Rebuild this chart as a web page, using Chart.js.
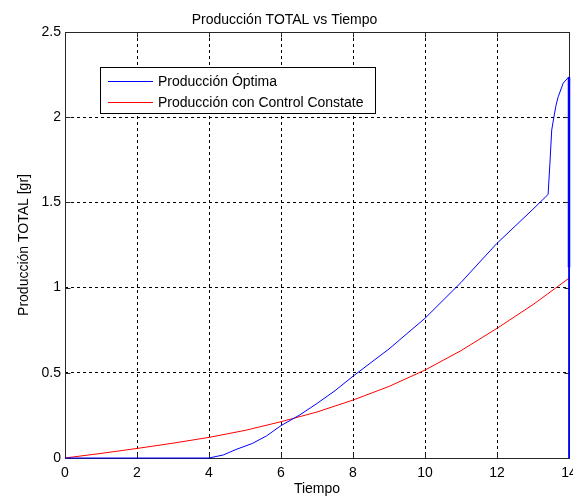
<!DOCTYPE html>
<html>
<head>
<meta charset="utf-8">
<script src="https://cdn.jsdelivr.net/npm/chart.js@4.4.1/dist/chart.umd.min.js"></script>
<style>
body { margin: 0; background: #fff; }
</style>
</head>
<body>
<canvas id="chart" width="573" height="500"></canvas>
<script>
// Producción óptima (azul)
var tiempoOptima = [0, 1, 2, 3, 4, 4.4, 4.75, 5.2, 5.6, 6, 6.5, 7, 7.5, 8, 9, 10, 11, 11.52, 12, 12.5, 13, 13.42,
    13.47, 13.52, 13.58, 13.64, 13.7, 13.84, 13.99, 14, 14];
var produccionOptima = [0, 0, 0, 0, 0, 0.018, 0.05, 0.085, 0.13, 0.19, 0.25, 0.32, 0.395, 0.48, 0.64, 0.82, 1.03, 1.15, 1.26, 1.36, 1.46, 1.547,
    1.73, 1.925, 2.0, 2.07, 2.12, 2.2, 2.235, 2.235, 0];
// tramo final repetido (se ve más grueso)
var tiempoFinal = [14, 14];
var produccionFinal = [2.235, 1.12];

// Producción con control constante (rojo)
var tiempoControl = [0, 1, 2, 3, 4, 5, 6, 7, 8, 9, 10, 11, 12, 13, 14];
var produccionControl = [0, 0.027, 0.056, 0.087, 0.121, 0.162, 0.213, 0.27, 0.34, 0.42, 0.516, 0.63, 0.761, 0.9, 1.055];

var xTicks = [0, 2, 4, 6, 8, 10, 12, 14];
var yTicks = [0, 0.5, 1, 1.5, 2, 2.5];

var FONT = "'Liberation Sans', Arial, sans-serif";

function toPoints(xs, ys) {
    return xs.map(function (x, i) { return { x: x, y: ys[i] }; });
}

/**
 * Frame round the axes plus the small inward tick marks.
 */
var marcoEjes = {
    id: 'marcoEjes',
    beforeDatasetsDraw: function (chart) {
        var ctx = chart.ctx, a = chart.chartArea;
        var xs = chart.scales.x, ys = chart.scales.y;
        var l = Math.round(a.left) + 0.5, r = Math.round(a.right) + 0.5;
        var t = Math.round(a.top) + 0.5, b = Math.round(a.bottom) + 0.5;
        var len = 5;
        ctx.save();
        ctx.strokeStyle = '#262626';
        ctx.lineWidth = 1;
        ctx.strokeRect(l, t, r - l, b - t);
        ctx.beginPath();
        xTicks.forEach(function (v) {
            var px = Math.round(xs.getPixelForValue(v)) + 0.5;
            ctx.moveTo(px, b); ctx.lineTo(px, b - len);
            ctx.moveTo(px, t); ctx.lineTo(px, t + len);
        });
        yTicks.forEach(function (v) {
            var py = Math.round(ys.getPixelForValue(v)) + 0.5;
            ctx.moveTo(l, py); ctx.lineTo(l + len, py);
            ctx.moveTo(r, py); ctx.lineTo(r - len, py);
        });
        ctx.stroke();
        ctx.restore();
    }
};

/**
 * MATLAB-like legend box inside the plot.
 */
var leyendaCaja = {
    id: 'leyendaCaja',
    afterDraw: function (chart) {
        var ctx = chart.ctx;
        var box = { x: 100.5, y: 67.5, w: 275, h: 46 };
        var rows = [81, 102];
        ctx.save();
        ctx.fillStyle = '#fff';
        ctx.fillRect(box.x, box.y, box.w, box.h);
        ctx.strokeStyle = '#000';
        ctx.lineWidth = 1;
        ctx.strokeRect(box.x, box.y, box.w, box.h);
        ctx.font = '14px ' + FONT;
        ctx.textBaseline = 'middle';
        ctx.textAlign = 'left';
        for (var i = 0; i < 2; i++) {
            var ds = chart.data.datasets[i];
            var y = rows[i] + 0.5;
            ctx.strokeStyle = ds.borderColor;
            ctx.beginPath();
            ctx.moveTo(108, y);
            ctx.lineTo(153, y);
            ctx.stroke();
            ctx.fillStyle = '#000';
            ctx.fillText(ds.label, 158, rows[i] + 1);
        }
        ctx.restore();
    }
};

var ctx = document.getElementById('chart').getContext('2d');
new Chart(ctx, {
    type: 'scatter',
    data: {
        datasets: [{
            label: 'Producción Óptima',
            data: toPoints(tiempoOptima, produccionOptima),
            borderColor: '#0000ff',
            borderWidth: 1,
            showLine: true,
            pointRadius: 0,
            clip: false
        }, {
            label: 'Producción con Control Constate',
            data: toPoints(tiempoControl, produccionControl),
            borderColor: '#ff0000',
            borderWidth: 1,
            showLine: true,
            pointRadius: 0,
            clip: false
        }, {
            label: 'final',
            data: toPoints(tiempoFinal, produccionFinal),
            borderColor: '#0000ff',
            borderWidth: 2.5,
            showLine: true,
            pointRadius: 0,
            clip: false
        }]
    },
    options: {
        responsive: false,
        animation: false,
        layout: { padding: { top: 0, left: 0, right: 4, bottom: 0 } },
        plugins: {
            legend: { display: false },
            tooltip: { enabled: false },
            title: {
                display: true,
                text: 'Producción TOTAL vs Tiempo',
                color: '#000',
                font: { family: FONT, size: 14, weight: 'normal', lineHeight: 1.2 },
                padding: { top: 11.6, bottom: 3.6 }
            }
        },
        scales: {
            x: {
                type: 'linear',
                min: 0,
                max: 14,
                afterBuildTicks: function (scale) {
                    scale.ticks = xTicks.map(function (v) { return { value: v }; });
                },
                afterFit: function (scale) {
                    scale.height = 42;
                    scale.paddingLeft = 0;
                    scale.paddingRight = 0;
                },
                grid: { color: '#000', lineWidth: 1, drawTicks: false },
                border: { display: false, dash: [3, 3] },
                ticks: { color: '#000', padding: 7, autoSkip: false, maxRotation: 0,
                    font: { family: FONT, size: 14 },
                    callback: function (v) { return String(v); } },
                title: { display: true, text: 'Tiempo', color: '#000',
                    font: { family: FONT, size: 14, lineHeight: 1.2 },
                    padding: { top: 0, bottom: 2.6 } }
            },
            y: {
                type: 'linear',
                min: 0,
                max: 2.5,
                afterBuildTicks: function (scale) {
                    scale.ticks = yTicks.map(function (v) { return { value: v }; });
                },
                afterFit: function (scale) {
                    scale.width = 65;
                },
                grid: { color: '#000', lineWidth: 1, drawTicks: false },
                border: { display: false, dash: [3, 3] },
                ticks: { color: '#000', padding: 4, font: { family: FONT, size: 14 },
                    callback: function (v) { return String(v); } },
                title: { display: true, text: 'Producción TOTAL [gr]', color: '#000',
                    font: { family: FONT, size: 14, lineHeight: 1.2 },
                    padding: { top: 16, bottom: 0 } }
            }
        }
    },
    plugins: [marcoEjes, leyendaCaja]
});
</script>
</body>
</html>
